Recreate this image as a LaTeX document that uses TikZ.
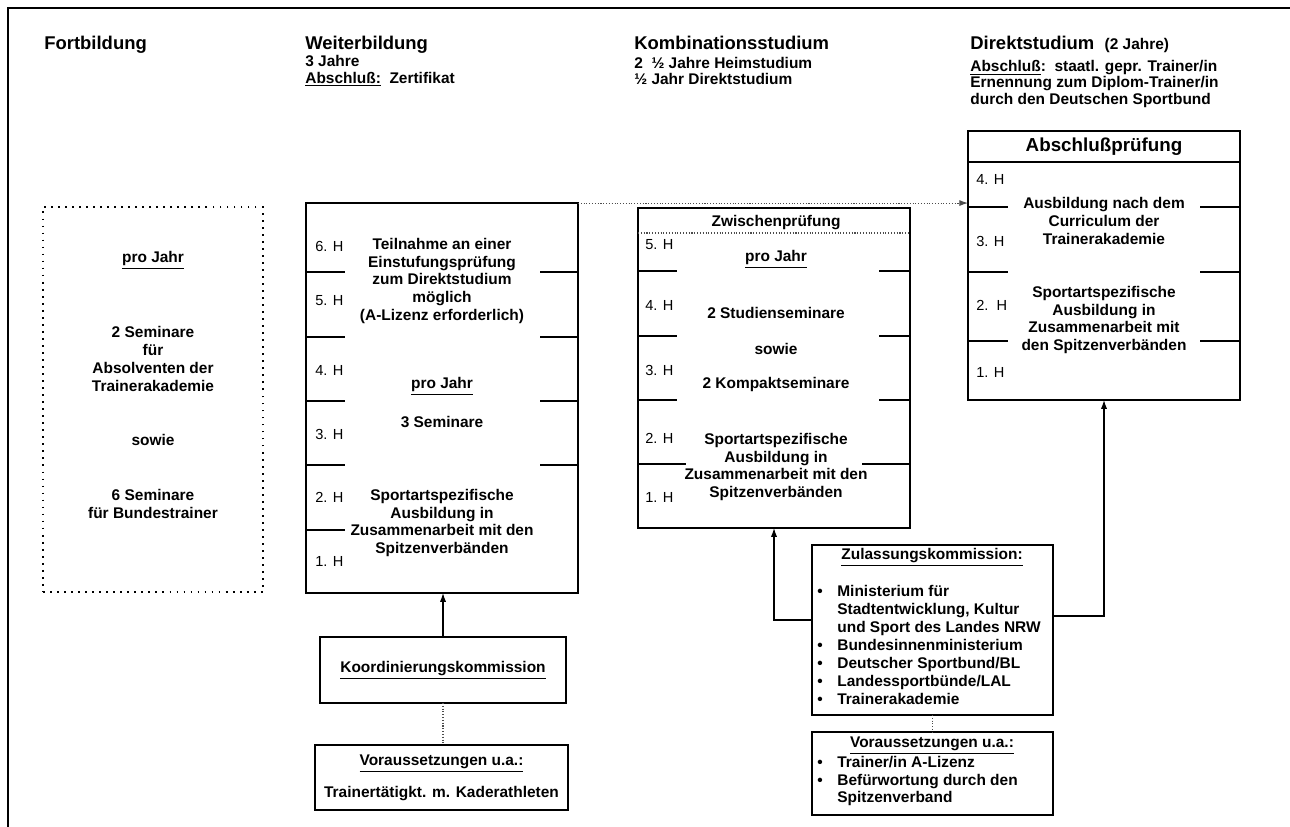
\documentclass[tikz,border=0pt]{standalone}
\usepackage{fontspec}
\setmainfont{Liberation Sans}
\usetikzlibrary{arrows.meta}

\newcommand{\kopf}{\fontsize{10.5}{12.5}\selectfont\bfseries}
\newcommand{\unter}{\fontsize{8.8}{9.5}\selectfont\bfseries}
\newcommand{\inhalt}{\fontsize{8.8}{10.2}\selectfont\bfseries}
\newcommand{\pruef}{\fontsize{10.7}{12}\selectfont\bfseries}
\newcommand{\halb}{\fontsize{8.3}{10}\selectfont}
\newcommand{\punkt}{\makebox[0.4cm][l]{•}}
\newcommand{\einr}{\hspace*{0.4cm}}

\tikzset{
  rahmen/.style={draw, line width=1pt, inner sep=0pt, outer sep=0pt},
  fortbox/.style={draw, line width=0.9pt, dash pattern=on 1pt off 3pt, inner sep=0pt},
  kopftext/.style={anchor=west, inner sep=0pt, align=left},
  kopfzeile/.style={anchor=base west, inner sep=0pt, font=\kopf},
  inhalttext/.style={inner sep=0pt, align=center, font=\inhalt},
  halbjahr/.style={anchor=west, inner sep=0pt, font=\halb},
  trenn/.style={line width=0.8pt},
  pfeil/.style={line width=0.7pt, -{Latex[length=5pt,width=3.5pt]}},
  punktlinie/.style={line width=0.6pt, densely dotted, black!70},
}

\begin{document}
\begin{tikzpicture}[x=0.02cm, y=-0.02cm]
\useasboundingbox (0,0) rectangle (1290,827);
% Rahmen
\draw[line width=1.7pt] (8,827) -- (8,8) -- (1290,8);

% Spaltenkoepfe
\node[kopfzeile] (h1) at (44,50) {Fortbildung};
\node[kopfzeile] (h2) at (305,50) {Weiterbildung};
\node[kopftext, font=\unter] (h2a) at (305,71) {3 Jahre\\\underline{Abschluß:}\ \ Zertifikat};
\node[kopfzeile] (h3) at (634,50) {Kombinationsstudium};
\node[kopftext, font=\unter] (h3a) at (634,71) {2\ \ ½ Jahre Heimstudium\\½ Jahr Direktstudium};
\node[kopfzeile] (h4) at (970,50) {Direktstudium\ \ {\unter (2 Jahre)}};
\node[kopftext, font=\unter] (h4a) at (970,84) {\underline{Abschluß}:\ \ staatl. gepr. Trainer/in\\Ernennung zum Diplom-Trainer/in\\durch den Deutschen Sportbund};

% Kaesten
\node[fortbox, minimum width=4.4cm, minimum height=7.7cm] (fb) at (153,399.5) {};
\node[rahmen, minimum width=5.44cm, minimum height=7.8cm] (wb) at (442,398) {};
\node[rahmen, minimum width=5.44cm, minimum height=6.4cm] (kb) at (774,368) {};
\node[rahmen, minimum width=5.44cm, minimum height=5.38cm] (dk) at (1104,265.5) {};
\node[rahmen, minimum width=4.92cm, minimum height=1.32cm, font=\inhalt] (ko) at (443,670) {\underline{Koordinierungskommission}};
\node[rahmen, minimum width=5.06cm, minimum height=1.3cm, font=\inhalt, align=center] (vo1) at (441.5,777.5) {\underline{Voraussetzungen u.a.:}\\[6.8pt]Trainertätigkt. m. Kaderathleten};
\node[rahmen, minimum width=4.82cm, minimum height=3.4cm] (zk) at (932.5,630) {};
\node[rahmen, minimum width=4.82cm, minimum height=1.66cm] (vo2) at (932.5,773.5) {};

% Fortbildung
\node[inhalttext] (fb1) at (153,260) {\underline{pro Jahr}};
\node[inhalttext] (fb2) at (153,359) {2 Seminare\\für\\Absolventen der\\Trainerakademie};
\node[inhalttext] (fb3) at (153,440) {sowie};
\node[inhalttext] (fb4) at (153,504) {6 Seminare\\für Bundestrainer};

% Weiterbildung
\node[inhalttext] (wb1) at (442,281) {Teilnahme an einer\\Einstufungsprüfung\\zum Direktstudium\\möglich\\(A-Lizenz erforderlich)};
\node[inhalttext] (wb2) at (442,386) {\underline{pro Jahr}};
\node[inhalttext] (wb3) at (442,422) {3 Seminare};
\node[inhalttext] (wb4) at (442,523) {Sportartspezifische\\Ausbildung in\\Zusammenarbeit mit den\\Spitzenverbänden};
\foreach \n/\y in {6/246,5/301,4/370,3/434,2/497,1/561}
  \node[halbjahr] (wbh\n) at (315,\y) {\n. H};
\foreach \y in {272,337,401,465} {
  \draw[trenn] (306,\y) -- (345,\y);
  \draw[trenn] (540,\y) -- (578,\y);
}
\draw[trenn] (306,530) -- (345,530);

% Kombinationsstudium
\node[inhalttext] (kb0) at (776,223) {Zwischenprüfung};
\draw[punktlinie] (kb.west |- 0,233) -- (kb.east |- 0,233);
\node[inhalttext] (kb1) at (776,259) {\underline{pro Jahr}};
\node[inhalttext] (kb2) at (776,313) {2 Studienseminare};
\node[inhalttext] (kb3) at (776,349) {sowie};
\node[inhalttext] (kb4) at (776,385) {2 Kompaktseminare};
\node[inhalttext] (kb5) at (776,467) {Sportartspezifische\\Ausbildung in\\Zusammenarbeit mit den\\Spitzenverbänden};
\foreach \n/\y in {5/245,4/305,3/370,2/438,1/497}
  \node[halbjahr] (kbh\n) at (645,\y) {\n. H};
\foreach \y in {271,336,400} {
  \draw[trenn] (638,\y) -- (677,\y);
  \draw[trenn] (879,\y) -- (910,\y);
}
\draw[trenn] (638,464) -- (686,464);
\draw[trenn] (862,464) -- (910,464);

% Direktstudium
\node[inhalttext, font=\pruef] (dk0) at (1104,147) {Abschlußprüfung};
\draw[trenn] (dk.west |- 0,162) -- (dk.east |- 0,162);
\node[inhalttext] (dk1) at (1104,221) {Ausbildung nach dem\\Curriculum der\\Trainerakademie};
\node[inhalttext] (dk2) at (1104,320) {Sportartspezifische\\Ausbildung in\\Zusammenarbeit mit\\den Spitzenverbänden};
\foreach \n/\y in {4/179,3/241,1/372}
  \node[halbjahr] (dkh\n) at (976,\y) {\n. H};
\node[halbjahr] (dkh2) at (976,305) {2.\ \ H};
\foreach \y in {207,272,341} {
  \draw[trenn] (968,\y) -- (1008,\y);
  \draw[trenn] (1200,\y) -- (1240,\y);
}

% Kommissionen
\node[inhalttext] (zk0) at (932,557) {\underline{Zulassungskommission:}};
\node[inhalttext, anchor=west, align=left] (zk1) at (817,645) {\punkt Ministerium für\\\einr Stadtentwicklung, Kultur\\\einr und Sport des Landes NRW\\\punkt Bundesinnenministerium\\\punkt Deutscher Sportbund/BL\\\punkt Landessportbünde/LAL\\\punkt Trainerakademie};
\node[inhalttext] (vo2t) at (932,746) {\underline{Voraussetzungen u.a.:}};
\node[inhalttext, anchor=west, align=left] (vo2l) at (817,781) {\punkt Trainer/in A-Lizenz\\\punkt Befürwortung durch den\\\einr Spitzenverband};

% Verbindungen
\draw[punktlinie, -{Latex[length=5pt,width=3.5pt]}] (wb.north east) -- (wb.north east -| dk.west);
\draw[pfeil] (ko.north) -- (ko.north |- wb.south);
\draw[punktlinie] (ko.south) -- (ko.south |- vo1.north);
\draw[pfeil] ([yshift=0.2cm]zk.west) -| (kb.south);
\draw[pfeil] ([yshift=0.28cm]zk.east) -| (dk.south);
\draw[punktlinie] (zk.south) -- (vo2.north);
\end{tikzpicture}
\end{document}
